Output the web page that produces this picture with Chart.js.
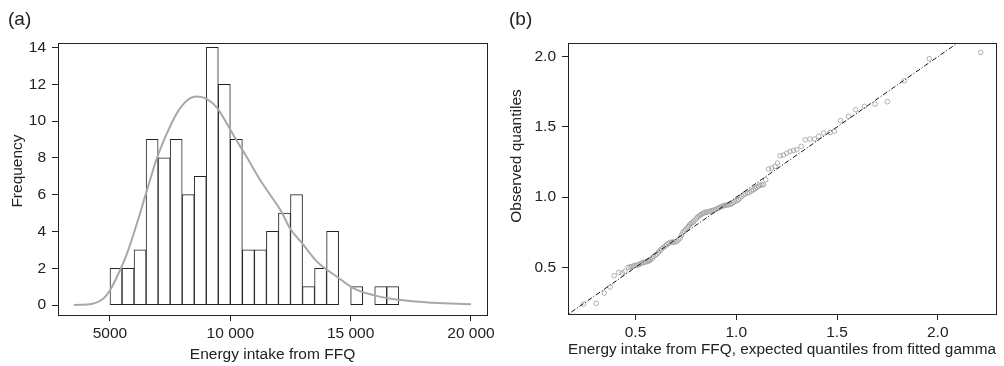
<!DOCTYPE html>
<html>
<head>
<meta charset="utf-8">
<script src="https://cdn.jsdelivr.net/npm/chart.js@4.4.1/dist/chart.umd.min.js"></script>
<style>
  body { margin: 0; background: #fff; }
  #wrap { position: relative; width: 1004px; height: 366px; }
  canvas { position: absolute; top: 0; }
</style>
</head>
<body>
<div id="wrap">
  <canvas id="histChart" width="500" height="366" style="left:0"></canvas>
  <canvas id="qqChart" width="504" height="366" style="left:500px"></canvas>
</div>
<script>
// (a) histogram, bins 500 wide, given by left edge
const binStarts = [5000, 5500, 6000, 6500, 7000, 7500, 8000, 8500, 9000, 9500, 10000, 10500,
                   11000, 11500, 12000, 12500, 13000, 13500, 14000, 14500, 15000, 15500, 16000, 16500];
const binCounts = [2, 2, 3, 9, 8, 9, 6, 7, 14, 12, 9, 3,
                   3, 4, 5, 6, 1, 2, 4, 0, 1, 0, 1, 1];
// fitted gamma density, scaled to frequency
const curveX = [3500, 4320, 4730, 5010, 5290, 5710, 6120, 6540, 6950, 7370, 7780, 8200, 8610,
                9030, 9450, 9860, 10280, 10700, 11240, 11660, 12080, 12490, 12980, 13600, 14430,
                15120, 15950, 17060, 18440, 20000];
const curveY = [0.0, 0.09, 0.36, 0.82, 1.54, 2.81, 4.44, 6.26, 7.98, 9.34, 10.43, 11.12, 11.33,
                11.19, 10.72, 9.85, 8.90, 8.00, 6.80, 5.98, 5.17, 4.15, 3.36, 2.36, 1.54,
                0.91, 0.54, 0.27, 0.13, 0.05];
const xTicksA = [5000, 10000, 15000, 20000];
const yTicksA = [0, 2, 4, 6, 8, 10, 12, 14];

// (b) Q-Q plot
const qqExpected = [0.242, 0.305, 0.345, 0.374, 0.394, 0.417, 0.434, 0.447, 0.464, 0.473, 0.482, 0.490,
  0.498, 0.507, 0.515, 0.523, 0.531, 0.540, 0.548, 0.556, 0.564, 0.570, 0.576, 0.583, 0.589, 0.598,
  0.606, 0.614, 0.622, 0.630, 0.639, 0.647, 0.655, 0.663, 0.672, 0.680, 0.688, 0.697, 0.705, 0.713,
  0.722, 0.728, 0.735, 0.742, 0.748, 0.756, 0.763, 0.768, 0.774, 0.781, 0.788, 0.796, 0.804, 0.810,
  0.817, 0.824, 0.831, 0.838, 0.846, 0.854, 0.862, 0.870, 0.879, 0.887, 0.895, 0.904, 0.912, 0.920,
  0.928, 0.936, 0.945, 0.953, 0.961, 0.970, 0.978, 0.986, 0.994, 1.003, 1.011, 1.019, 1.027, 1.036,
  1.044, 1.055, 1.065, 1.075, 1.085, 1.094, 1.102, 1.110, 1.118, 1.128, 1.135, 1.146, 1.160, 1.176,
  1.193, 1.204, 1.218, 1.234, 1.251, 1.267, 1.284, 1.300, 1.322, 1.342, 1.366, 1.388, 1.409, 1.433,
  1.466, 1.487, 1.518, 1.557, 1.593, 1.636, 1.689, 1.750, 1.834, 1.958, 2.213];
const qqObserved = [0.239, 0.244, 0.317, 0.360, 0.441, 0.464, 0.460, 0.472, 0.500, 0.503, 0.507, 0.510,
  0.514, 0.516, 0.519, 0.525, 0.531, 0.535, 0.538, 0.541, 0.545, 0.550, 0.555, 0.566, 0.578, 0.586,
  0.595, 0.608, 0.621, 0.632, 0.642, 0.652, 0.661, 0.670, 0.678, 0.679, 0.680, 0.682, 0.685, 0.697,
  0.709, 0.730, 0.749, 0.759, 0.768, 0.780, 0.792, 0.802, 0.811, 0.818, 0.825, 0.838, 0.851, 0.860,
  0.868, 0.875, 0.882, 0.887, 0.892, 0.894, 0.896, 0.900, 0.904, 0.908, 0.911, 0.917, 0.923, 0.929,
  0.934, 0.938, 0.942, 0.944, 0.946, 0.950, 0.953, 0.962, 0.970, 0.976, 0.982, 0.994, 1.006, 1.016,
  1.025, 1.030, 1.034, 1.044, 1.053, 1.062, 1.070, 1.078, 1.086, 1.088, 1.089, 1.124, 1.200, 1.207,
  1.219, 1.243, 1.295, 1.300, 1.314, 1.326, 1.333, 1.338, 1.362, 1.409, 1.414, 1.414, 1.433, 1.457,
  1.461, 1.469, 1.545, 1.575, 1.623, 1.647, 1.663, 1.680, 1.829, 1.986, 2.031];
const refLine = [0.1, 2.4];  // y = x
const ticksB = [0.5, 1.0, 1.5, 2.0];

const fam = "'Liberation Sans', Arial, sans-serif";
Chart.defaults.font.family = fam;
Chart.defaults.font.size = 15.5;
Chart.defaults.color = '#222';

// frame round the plot area, panel letter and y title
const framePlugin = {
  id: 'frame',
  afterDraw(chart, args, opts) {
    const ctx = chart.ctx, a = chart.chartArea;
    ctx.save();
    ctx.strokeStyle = '#222';
    ctx.lineWidth = 1;
    ctx.strokeRect(Math.round(a.left) + 0.5, Math.round(a.top) + 0.5,
                   Math.round(a.right - a.left), Math.round(a.bottom - a.top));
    ctx.fillStyle = '#222';
    ctx.font = '19px ' + fam;
    ctx.textBaseline = 'alphabetic';
    ctx.fillText(opts.panel, opts.panelX, 25);
    ctx.translate(opts.titleX, opts.titleY);
    ctx.rotate(-Math.PI / 2);
    ctx.font = '15.5px ' + fam;
    ctx.textAlign = 'center';
    ctx.textBaseline = 'middle';
    ctx.fillText(opts.yTitle, 0, 0);
    ctx.restore();
  }
};

function fixTicks(list) {
  return function(scale) { scale.ticks = list.map(v => ({ value: v })); };
}
const tickGrid = { drawOnChartArea: false, drawTicks: true, tickLength: 6, color: '#222', offset: false };

new Chart(document.getElementById('histChart'), {
  type: 'bar',
  data: {
    datasets: [{
      type: 'line',
      data: curveX.map((x, i) => ({ x: x, y: curveY[i] })),
      borderColor: '#a8a8a8',
      borderWidth: 2,
      pointRadius: 0,
      cubicInterpolationMode: 'monotone',
      order: 0
    }, {
      type: 'bar',
      data: binStarts.map((s, i) => ({ x: s + 250, y: binCounts[i] || null })),
      backgroundColor: '#fff',
      borderColor: '#222',
      borderWidth: 1,
      borderSkipped: false,
      barPercentage: 1,
      categoryPercentage: 1,
      order: 1
    }]
  },
  options: {
    responsive: false,
    animation: false,
    events: [],
    layout: { padding: { top: 43, right: 13, left: 0, bottom: 0 } },
    plugins: {
      legend: { display: false },
      tooltip: { enabled: false },
      frame: { panel: '(a)', panelX: 8, yTitle: 'Frequency', titleX: 18, titleY: 171 }
    },
    scales: {
      x: {
        type: 'linear', min: 2840, max: 20665, offset: false,
        afterBuildTicks: fixTicks(xTicksA),
        afterFit: s => { s.height = 51; },
        grid: tickGrid,
        border: { display: false },
        ticks: {
          padding: 3,
          callback: v => v >= 10000 ? String(v).replace(/(\d{3})$/, ' $1') : String(v)
        },
        title: { display: true, text: 'Energy intake from FFQ', padding: { top: 0, bottom: 2 } }
      },
      y: {
        min: -0.54, max: 14.24,
        afterBuildTicks: fixTicks(yTicksA),
        afterFit: s => { s.width = 58; },
        grid: tickGrid,
        border: { display: false },
        ticks: { padding: 6 }
      }
    }
  },
  plugins: [framePlugin]
});

new Chart(document.getElementById('qqChart'), {
  type: 'scatter',
  data: {
    datasets: [{
      type: 'line',
      data: refLine.map(v => ({ x: v, y: v })),
      borderColor: '#111',
      borderWidth: 1,
      borderDash: [5, 2, 1, 2],
      pointRadius: 0,
      order: 0
    }, {
      data: qqExpected.map((x, i) => ({ x: x, y: qqObserved[i] })),
      pointStyle: 'circle',
      pointRadius: 2.3,
      borderWidth: 0.8,
      borderColor: '#9c9c9c',
      backgroundColor: 'rgba(0,0,0,0)',
      order: 1
    }]
  },
  options: {
    responsive: false,
    animation: false,
    events: [],
    layout: { padding: { top: 43, right: 8, left: 0, bottom: 0 } },
    plugins: {
      legend: { display: false },
      tooltip: { enabled: false },
      frame: { panel: '(b)', panelX: 9, yTitle: 'Observed quantiles', titleX: 17, titleY: 156 }
    },
    scales: {
      x: {
        type: 'linear', min: 0.165, max: 2.289,
        afterBuildTicks: fixTicks(ticksB),
        afterFit: s => { s.height = 52; },
        grid: tickGrid,
        border: { display: false },
        ticks: { padding: 3, callback: v => v.toFixed(1) },
        title: { display: true, text: 'Energy intake from FFQ, expected quantiles from fitted gamma',
                 padding: { top: 0, bottom: 7 } }
      },
      y: {
        type: 'linear', min: 0.168, max: 2.098,
        afterBuildTicks: fixTicks(ticksB),
        afterFit: s => { s.width = 68; },
        grid: tickGrid,
        border: { display: false },
        ticks: { padding: 6, callback: v => v.toFixed(1) }
      }
    }
  },
  plugins: [framePlugin]
});
</script>
</body>
</html>
